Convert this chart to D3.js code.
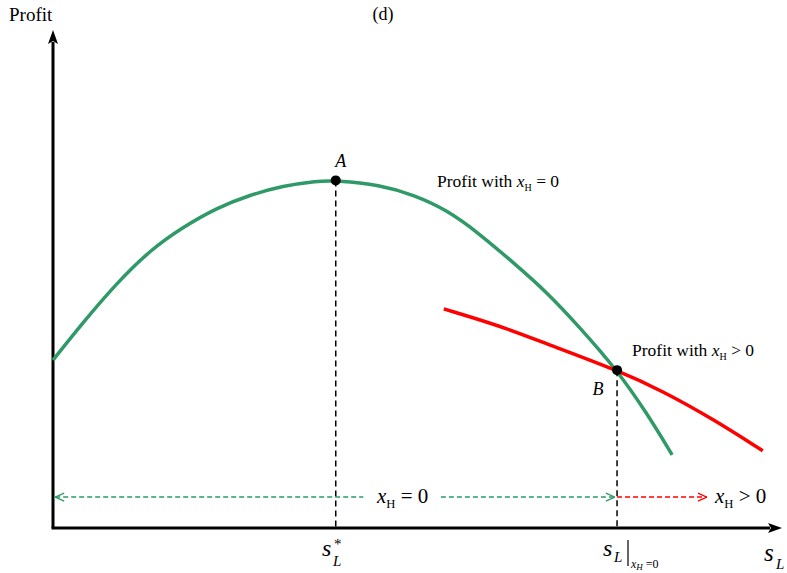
<!DOCTYPE html>
<html>
<head>
<meta charset="utf-8">
<script src="https://cdn.jsdelivr.net/npm/d3@7"></script>
<style>
  body { margin: 0; background: #fff; }
  svg text { font-family: "Liberation Serif", "Times New Roman", serif; fill: #000; }
</style>
</head>
<body>
<div id="chart"></div>
<script>
// profit curves (x = s_L, y = profit, arbitrary units 0..100)
const greenX = [0, 4.1, 8.8, 13.4, 17.9, 22.6, 27.2, 31.7, 36.4, 39.0, 45.1, 49.7, 54.3, 58.9, 63.4, 68.1, 72.7, 77.8, 81.9, 85.4];
const greenY = [33.7, 41.2, 49.2, 55.8, 60.4, 64.3, 66.9, 68.7, 69.7, 69.8, 68.9, 66.9, 63.9, 59.0, 53.4, 47.4, 40.2, 31.7, 23.1, 14.7];
const redX = [53.9, 61.7, 68.6, 77.8, 84.1, 91.0, 97.9];
const redY = [44.0, 40.6, 36.7, 31.7, 27.5, 21.9, 15.5];
const pointA = [39.0, 69.8];
const pointB = [77.8, 31.7];
const regionY = 6.2;

const width = 787, height = 573;
const green = "#2f9a68", red = "#f00";

const svg = d3.select("#chart").append("svg")
    .attr("width", width).attr("height", height);

const x = d3.scaleLinear().domain([0, 100]).range([53, 778]);
const y = d3.scaleLinear().domain([0, 100]).range([528, 30]);

const defs = svg.append("defs");
function chevron(id, color) {
    defs.append("marker")
        .attr("id", id)
        .attr("markerUnits", "userSpaceOnUse")
        .attr("viewBox", "0 0 10 10")
        .attr("refX", 10).attr("refY", 5)
        .attr("markerWidth", 10).attr("markerHeight", 10)
        .attr("orient", "auto-start-reverse")
        .append("path")
        .attr("d", "M1,1 L10,5 L1,9")
        .attr("fill", "none")
        .attr("stroke", color)
        .attr("stroke-width", 1.4);
}
chevron("arrGreen", green);
chevron("arrRed", red);
defs.append("marker")
    .attr("id", "axisHead")
    .attr("markerUnits", "userSpaceOnUse")
    .attr("viewBox", "0 0 14 10")
    .attr("refX", 2).attr("refY", 5)
    .attr("markerWidth", 14).attr("markerHeight", 10)
    .attr("orient", "auto")
    .append("path")
    .attr("d", "M0,0 L14,5 L0,10 L3,5 Z")
    .attr("fill", "#000");

// axes
svg.append("line")
    .attr("x1", x(0)).attr("y1", y(0))
    .attr("x2", x(0)).attr("y2", 42)
    .attr("stroke", "#000").attr("stroke-width", 3)
    .attr("marker-end", "url(#axisHead)");
svg.append("line")
    .attr("x1", x(0) - 1.5).attr("y1", y(0))
    .attr("x2", 770).attr("y2", y(0))
    .attr("stroke", "#000").attr("stroke-width", 3)
    .attr("marker-end", "url(#axisHead)");

// drop lines
[pointA, pointB].forEach(p => {
    svg.append("line")
        .attr("x1", x(p[0])).attr("y1", y(p[1]))
        .attr("x2", x(p[0])).attr("y2", y(0) - 1)
        .attr("stroke", "#000").attr("stroke-width", 1.5)
        .attr("stroke-dasharray", "6,4");
});

// curves
const line = d3.line().x(d => x(d[0])).y(d => y(d[1])).curve(d3.curveBasis);
svg.append("path")
    .attr("d", line(d3.zip(greenX, greenY)))
    .attr("fill", "none").attr("stroke", green).attr("stroke-width", 3.5);
svg.append("path")
    .attr("d", line(d3.zip(redX, redY)))
    .attr("fill", "none").attr("stroke", red).attr("stroke-width", 3.5);

// points
[pointA, pointB].forEach(p => {
    svg.append("circle")
        .attr("cx", x(p[0])).attr("cy", y(p[1])).attr("r", 5)
        .attr("fill", "#000");
});

// region arrows
function dashArrow(x1, x2, color, marker, both) {
    const l = svg.append("line")
        .attr("x1", x(x1)).attr("y1", y(regionY))
        .attr("x2", x(x2)).attr("y2", y(regionY))
        .attr("stroke", color).attr("stroke-width", 1.5)
        .attr("stroke-dasharray", "5,3");
    if (marker) l.attr(both ? "marker-start" : "marker-end", "url(#" + marker + ")");
    return l;
}
dashArrow(0.3, 42.8, green, "arrGreen", true);
dashArrow(53.5, 77.5, green, "arrGreen", false);
dashArrow(77.8, 90.2, red, "arrRed", false);

// helper for x_H style labels
function xh(g, px, py, size, rest) {
    const t = g.append("text").attr("x", px).attr("y", py).style("font-size", size + "px");
    t.append("tspan").style("font-style", "italic").text("x");
    t.append("tspan").attr("dy", size * 0.25).style("font-size", (size * 0.6) + "px").text("H");
    t.append("tspan").attr("dy", -size * 0.25).text(rest);
    return t;
}

// texts
svg.append("text").attr("x", 9).attr("y", 21).style("font-size", "19px").text("Profit");
svg.append("text").attr("x", 383).attr("y", 20).attr("text-anchor", "middle").style("font-size", "18px").text("(d)");
svg.append("text").attr("x", x(pointA[0]) + 5).attr("y", 167).attr("text-anchor", "middle")
    .style("font-size", "18px").style("font-style", "italic").text("A");
svg.append("text").attr("x", x(pointB[0]) - 19).attr("y", 395).attr("text-anchor", "middle")
    .style("font-size", "18px").style("font-style", "italic").text("B");

function profitLabel(px, py, rest) {
    const t = svg.append("text").attr("x", px).attr("y", py).style("font-size", "17.5px");
    t.append("tspan").text("Profit with ");
    t.append("tspan").style("font-style", "italic").text("x");
    t.append("tspan").attr("dy", 4).style("font-size", "10px").text("H");
    t.append("tspan").attr("dy", -4).text(rest);
}
profitLabel(437, 187, " = 0");
profitLabel(632, 356, " > 0");

xh(svg, 377, 503, 21, " = 0");
xh(svg, 715, 503, 21, " > 0");

// x-axis labels
svg.append("text").attr("x", 322).attr("y", 556).style("font-size", "24px").style("font-style", "italic").text("s");
svg.append("text").attr("x", 334).attr("y", 549).style("font-size", "15px").text("*");
svg.append("text").attr("x", 333).attr("y", 566).style("font-size", "15px").style("font-style", "italic").text("L");

svg.append("text").attr("x", 603).attr("y", 556).style("font-size", "24px").style("font-style", "italic").text("s");
svg.append("text").attr("x", 614).attr("y", 562).style("font-size", "15px").style("font-style", "italic").text("L");
svg.append("line").attr("x1", 628).attr("y1", 540).attr("x2", 628).attr("y2", 566)
    .attr("stroke", "#000").attr("stroke-width", 1.2);
const sub = svg.append("text").attr("x", 631).attr("y", 568).style("font-size", "12px");
sub.append("tspan").style("font-style", "italic").text("x");
sub.append("tspan").attr("dy", 2).style("font-size", "9px").style("font-style", "italic").text("H");
sub.append("tspan").attr("dy", -2).text(" =0");

svg.append("text").attr("x", 764).attr("y", 561).style("font-size", "25px").style("font-style", "italic").text("s");
svg.append("text").attr("x", 776).attr("y", 569).style("font-size", "15px").style("font-style", "italic").text("L");
</script>
</body>
</html>
